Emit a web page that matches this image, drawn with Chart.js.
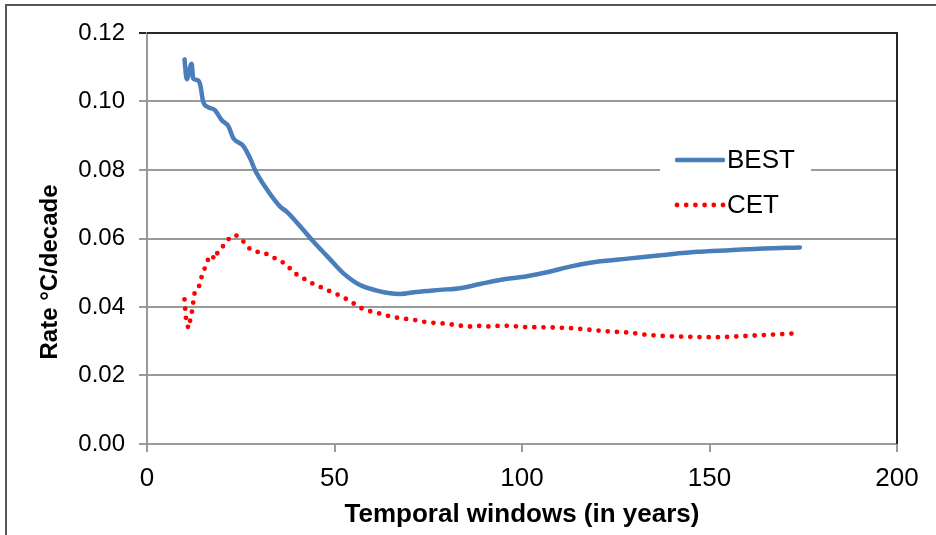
<!DOCTYPE html>
<html>
<head>
<meta charset="utf-8">
<script src="https://cdn.jsdelivr.net/npm/chart.js@4.4.1/dist/chart.umd.min.js"></script>
<style>
  html, body { margin: 0; padding: 0; background: #fff; }
  .frame { position: absolute; left: 5px; top: 4px; width: 960px; height: 560px; border: 2px solid #565656; box-sizing: border-box; }
  .chart-box { position: absolute; left: 0; top: 0; width: 936px; height: 535px; }
</style>
</head>
<body>
<div class="frame"></div>
<div class="chart-box"><canvas id="rateChart" width="936" height="535"></canvas></div>
<script>
// window length (years) and warming rate (°C/decade)
const bestYears = [10, 10.6, 11.9, 12.3, 13.2, 14.1, 15, 16.4, 18.1, 19.9, 21.7, 23, 25.7, 27.5, 28.8, 31.5, 35.5, 37.3, 41.7, 44.3, 47.9, 52.4, 56.8, 61.3, 64.8, 67.5, 71.9, 78.1, 83.5, 88.8, 94.1, 101.3, 107.3, 112.8, 119.9, 128.8, 137.7, 146.6, 155.5, 164.3, 174.1];
const bestRate = [0.1123, 0.1065, 0.1110, 0.1068, 0.1063, 0.1053, 0.0999, 0.0983, 0.0975, 0.0946, 0.0928, 0.0893, 0.0870, 0.0834, 0.0800, 0.0751, 0.0693, 0.0678, 0.0625, 0.0592, 0.0550, 0.0498, 0.0464, 0.0448, 0.0440, 0.0438, 0.0444, 0.0450, 0.0455, 0.0467, 0.0479, 0.0490, 0.0503, 0.0518, 0.0532, 0.0542, 0.0552, 0.0561, 0.0566, 0.0571, 0.0574];

const cetYears = [10, 10.2, 10.4, 11, 11.6, 12.1, 12.4, 12.8, 14.1, 14.6, 15.5, 16.4, 17.2, 18.1, 19, 20.6, 22.1, 23.7, 25.5, 27, 28.8, 31, 33.2, 35.5, 37.3, 39, 41.2, 43.4, 45.7, 47.9, 50.1, 52.4, 54.6, 56.8, 59, 61.7, 63.9, 66.6, 69.2, 71.5, 73.7, 76.3, 78.8, 81.2, 83.9, 86.3, 88.8, 91.5, 93.9, 96.4, 99, 101.3, 103.9, 108.8, 113.7, 118.6, 123.9, 128.8, 133.7, 138.6, 143.9, 148.8, 153.7, 159, 164.3, 169.7, 172.5];
const cetRate = [0.0422, 0.0393, 0.0367, 0.0338, 0.0365, 0.0393, 0.0420, 0.0448, 0.0464, 0.0490, 0.0516, 0.0542, 0.0552, 0.0539, 0.0564, 0.0581, 0.0603, 0.0610, 0.0594, 0.0573, 0.0561, 0.0560, 0.0547, 0.0535, 0.0523, 0.0501, 0.0487, 0.0472, 0.0461, 0.0450, 0.0440, 0.0428, 0.0414, 0.0398, 0.0389, 0.0382, 0.0375, 0.0369, 0.0365, 0.0362, 0.0357, 0.0354, 0.0352, 0.0349, 0.0345, 0.0343, 0.0345, 0.0343, 0.0345, 0.0345, 0.0343, 0.0341, 0.0341, 0.0340, 0.0338, 0.0333, 0.0328, 0.0325, 0.0318, 0.0315, 0.0313, 0.0312, 0.0312, 0.0315, 0.0318, 0.0321, 0.0323];

const seriesNames = ['BEST', 'CET'];
const xTicks = [0, 50, 100, 150, 200];
const yTicks = [0, 0.02, 0.04, 0.06, 0.08, 0.10, 0.12];

const toPoints = (xs, ys) => xs.map((x, i) => ({ x: x, y: ys[i] }));

const BLUE = '#4a7ebb';
const RED = '#ff0000';
const GRID = '#9a9a9a';
const SANS = "'Liberation Sans', Arial, sans-serif";

// black frame on top and right of the plot, white legend box inside the plot
const plotExtras = {
  id: 'plotExtras',
  beforeDatasetsDraw(chart) {
    const { ctx, chartArea: a } = chart;
    ctx.save();
    ctx.strokeStyle = '#262626';
    ctx.lineWidth = 2;
    ctx.beginPath();
    ctx.moveTo(a.left, a.top);
    ctx.lineTo(a.right, a.top);
    ctx.lineTo(a.right, a.bottom);
    ctx.stroke();

    // legend
    const bx = a.right - 237, by = a.top + 104;
    ctx.fillStyle = '#fff';
    ctx.fillRect(bx, by, 151, 88);
    ctx.font = '26px ' + SANS;
    ctx.textBaseline = 'middle';
    chart.data.datasets.forEach((ds, i) => {
      const y = a.top + 127 + i * 45;
      ctx.strokeStyle = ds.borderColor;
      ctx.lineWidth = ds.borderWidth;
      ctx.lineCap = 'round';
      ctx.setLineDash(ds.borderDash || []);
      ctx.beginPath();
      ctx.moveTo(bx + 17, y);
      ctx.lineTo(bx + 63, y);
      ctx.stroke();
      ctx.setLineDash([]);
      ctx.fillStyle = '#000';
      ctx.fillText(ds.label, bx + 67, y + 1);
    });
    ctx.restore();
  },
  afterDraw(chart) {
    const { ctx } = chart;
    ctx.save();
    ctx.translate(50, 272);
    ctx.rotate(-Math.PI / 2);
    ctx.font = 'bold 24px ' + SANS;
    ctx.fillStyle = '#000';
    ctx.textAlign = 'center';
    ctx.textBaseline = 'middle';
    ctx.fillText('Rate °C/decade', 0, 0);
    ctx.restore();
  }
};

new Chart(document.getElementById('rateChart').getContext('2d'), {
  type: 'line',
  data: {
    datasets: [
      {
        label: seriesNames[0],
        data: toPoints(bestYears, bestRate),
        borderColor: BLUE,
        borderWidth: 4.5,
        pointRadius: 0,
        cubicInterpolationMode: 'monotone',
        borderJoinStyle: 'round',
        borderCapStyle: 'round'
      },
      {
        label: seriesNames[1],
        data: toPoints(cetYears, cetRate),
        borderColor: RED,
        borderWidth: 4.8,
        borderDash: [0, 9.2],
        borderCapStyle: 'round',
        pointRadius: 0,
        tension: 0
      }
    ]
  },
  options: {
    responsive: false,
    animation: false,
    layout: { padding: { top: 33, right: 39, left: 0, bottom: 0 } },
    plugins: {
      legend: { display: false },
      tooltip: { enabled: false }
    },
    scales: {
      x: {
        type: 'linear',
        min: xTicks[0],
        max: xTicks[xTicks.length - 1],
        afterBuildTicks: s => { s.ticks = xTicks.map(v => ({ value: v })); },
        afterFit: s => { s.height = 91; },
        border: { color: GRID, width: 2 },
        grid: { drawOnChartArea: false, color: GRID, lineWidth: 2, tickLength: 8 },
        ticks: { color: '#000', font: { family: SANS, size: 26 }, padding: 11, maxRotation: 0 },
        title: {
          display: true,
          text: 'Temporal windows (in years)',
          color: '#000',
          font: { family: SANS, size: 26, weight: 'bold' },
          padding: { top: 0, bottom: 5 }
        }
      },
      y: {
        min: yTicks[0],
        max: yTicks[yTicks.length - 1],
        afterBuildTicks: s => { s.ticks = yTicks.map(v => ({ value: v })); },
        afterFit: s => { s.width = 147; },
        border: { color: GRID, width: 2 },
        grid: {
          color: c => (c.tick && c.tick.value >= 0.119 ? '#262626' : GRID),
          lineWidth: 2,
          tickLength: 8
        },
        ticks: {
          color: '#000',
          font: { family: SANS, size: 24 },
          padding: 14,
          callback: v => v.toFixed(2)
        }
      }
    }
  },
  plugins: [plotExtras]
});
</script>
</body>
</html>
